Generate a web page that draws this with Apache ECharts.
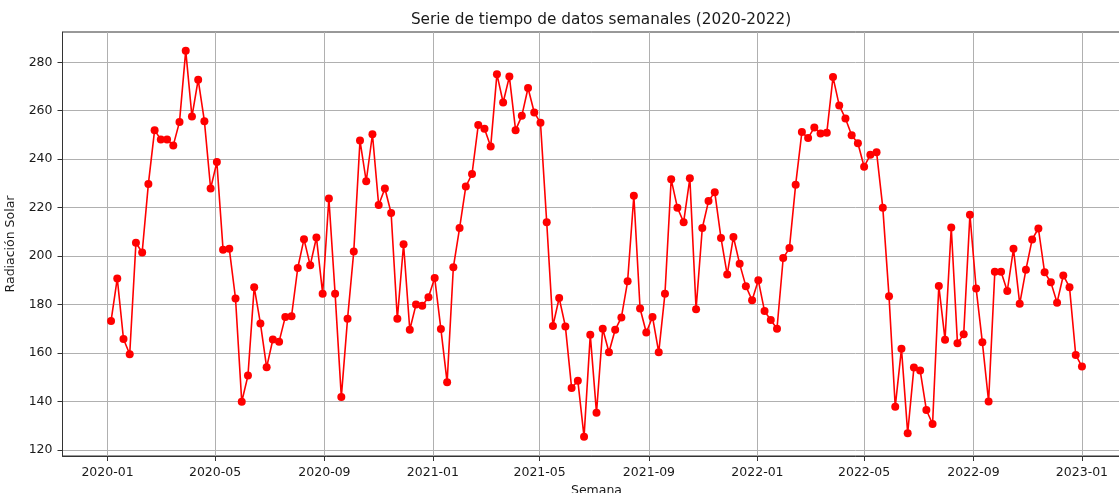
<!DOCTYPE html>
<html>
<head>
<meta charset="utf-8">
<title>Serie de tiempo de datos semanales (2020-2022)</title>
<script src="https://cdn.jsdelivr.net/npm/echarts@6/dist/echarts.min.js"></script>
<style>
  html, body { margin: 0; padding: 0; background: #ffffff; }
  #chart { width: 1119px; height: 493px; }
</style>
</head>
<body>
<div id="chart"></div>
<script>
// Weekly series: one reading per week, weeks ending on Sunday.
const firstWeek = '2020-01-05';
const weekStepDays = 7;

// Radiación solar semanal, 2020-01-05 .. 2023-01-01
const radiation = [
  173.2, 190.8, 165.8, 159.5, 205.5, 201.5, 229.8, 252.0, 248.1, 248.1,
  245.7, 255.4, 284.8, 257.6, 272.8, 255.7, 227.9, 238.8, 202.6, 203.0,
  182.5, 139.9, 150.7, 187.2, 172.2, 154.1, 165.6, 164.7, 174.9, 175.2,
  195.1, 207.0, 196.2, 207.7, 184.5, 223.8, 184.5, 141.8, 174.1, 201.9,
  247.7, 230.9, 250.3, 221.1, 227.9, 217.8, 174.1, 204.9, 169.6, 180.0,
  179.5, 183.0, 191.0, 169.9, 147.9, 195.4, 211.6, 228.7, 233.9, 254.1,
  252.6, 245.2, 275.1, 263.4, 274.1, 252.0, 257.9, 269.4, 259.3, 255.0,
  214.0, 171.2, 182.7, 171.0, 145.6, 148.6, 125.4, 167.5, 135.3, 170.0,
  160.3, 169.6, 174.7, 189.6, 224.9, 178.4, 168.5, 174.9, 160.3, 184.5,
  231.7, 220.0, 214.0, 232.1, 178.1, 211.6, 222.7, 226.4, 207.5, 192.4,
  207.9, 196.8, 187.6, 181.8, 190.0, 177.3, 173.6, 170.0, 199.2, 203.3,
  229.5, 251.2, 248.7, 253.1, 250.6, 250.9, 273.9, 262.2, 256.8, 249.9,
  246.6, 236.9, 241.8, 242.9, 220.0, 183.4, 137.8, 161.8, 126.9, 154.0,
  152.8, 136.5, 130.7, 187.7, 165.5, 211.8, 164.0, 167.7, 217.1, 186.6,
  164.4, 140.0, 193.5, 193.5, 185.6, 203.0, 180.3, 194.4, 206.9, 211.4,
  193.3, 189.2, 180.8, 192.0, 187.2, 159.2, 154.4
];

// Tick labels
const monthTicks = [
  '2020-01', '2020-05', '2020-09', '2021-01', '2021-05',
  '2021-09', '2022-01', '2022-05', '2022-09', '2023-01'
];
const radiationTicks = [120, 140, 160, 180, 200, 220, 240, 260, 280];

const DAY = 24 * 3600 * 1000;
const toUTC = s => {
  const p = s.split('-').map(Number);
  return Date.UTC(p[0], p[1] - 1, p[2] || 1);
};

const start = toUTC(firstWeek);
const weeks = radiation.map((_, i) => start + i * weekStepDays * DAY);
const points = weeks.map((t, i) => [t, radiation[i]]);

// 5% padding on both ends of the date range
const span = weeks[weeks.length - 1] - weeks[0];
const xMin = weeks[0] - 0.05 * span;
const xMax = weeks[weeks.length - 1] + 0.05 * span;

const tickTimes = monthTicks.map(toUTC);
const font = 'DejaVu Sans';
const textColor = '#1a1a1a';
const frameColor = '#333333';
const gridColor = '#b0b0b0';

const chart = echarts.init(document.getElementById('chart'), null, { renderer: 'canvas' });

chart.setOption({
  useUTC: true,
  animation: false,
  backgroundColor: '#ffffff',
  title: {
    text: 'Serie de tiempo de datos semanales (2020-2022)',
    left: 596,
    top: 8,
    textAlign: 'center',
    textStyle: { fontFamily: font, fontSize: 15.3, fontWeight: 'normal', color: textColor }
  },
  grid: {
    left: 62.5,
    top: 32,
    width: 1068,
    height: 424,
    containLabel: false,
    outerBoundsMode: 'none',
    show: true,
    borderColor: frameColor,
    borderWidth: 1,
    backgroundColor: 'transparent'
  },
  xAxis: {
    type: 'time',
    min: xMin,
    max: xMax,
    name: 'Semana',
    nameLocation: 'middle',
    nameGap: 25,
    nameTextStyle: { fontFamily: font, fontSize: 12.5, color: textColor },
    axisLine: { show: true, lineStyle: { color: frameColor, width: 1 } },
    axisTick: { show: true, length: 5, customValues: tickTimes, lineStyle: { color: frameColor } },
    axisLabel: {
      customValues: tickTimes,
      margin: 10,
      fontFamily: font,
      fontSize: 12.5,
      color: textColor,
      formatter: '{yyyy}-{MM}'
    },
    splitLine: { show: true, lineStyle: { color: gridColor, width: 1 } }
  },
  yAxis: {
    type: 'value',
    min: 117.5,
    max: 292.5,
    name: 'Radiación Solar',
    nameLocation: 'middle',
    nameGap: 32,
    nameTextStyle: { fontFamily: font, fontSize: 12.5, color: textColor },
    axisLine: { show: true, lineStyle: { color: frameColor, width: 1 } },
    axisTick: { show: true, length: 5, customValues: radiationTicks, lineStyle: { color: frameColor } },
    axisLabel: {
      customValues: radiationTicks,
      margin: 10,
      fontFamily: font,
      fontSize: 12.5,
      color: textColor
    },
    splitLine: { show: true, lineStyle: { color: gridColor, width: 1 } }
  },
  series: [{
    type: 'line',
    data: points,
    symbol: 'circle',
    symbolSize: 8,
    showAllSymbol: true,
    itemStyle: { color: '#ff0000' },
    lineStyle: { color: '#ff0000', width: 1.6 },
    clip: false
  }]
});
</script>
</body>
</html>
